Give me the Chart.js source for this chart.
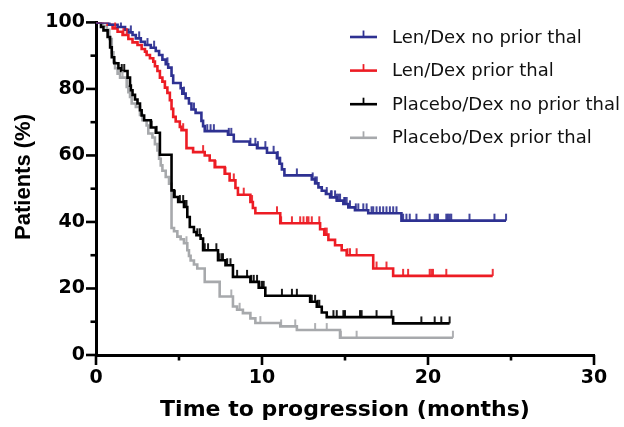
<!DOCTYPE html>
<html>
<head>
<meta charset="utf-8">
<title>Time to progression by prior thalidomide</title>
<script src="https://cdn.jsdelivr.net/npm/chart.js@4.4.1/dist/chart.umd.min.js"></script>
<style>
  html, body { margin: 0; padding: 0; background: #fff; }
  #wrap { width: 624px; height: 427px; }
</style>
</head>
<body>
<div id="wrap"><canvas id="km" width="624" height="427"></canvas></div>
<script>
// ---- data -----------------------------------------------------------------
var seriesNames = ["Len/Dex no prior thal", "Len/Dex prior thal",
                   "Placebo/Dex no prior thal", "Placebo/Dex prior thal"];
var seriesColors = ["#2e3192", "#ed1c24", "#000000", "#a7a9ac"];

var xTickMajor = [0, 10, 20, 30];
var xTickMinor = [5, 15, 25];
var yTickMajor = [0, 20, 40, 60, 80, 100];
var yTickMinor = [10, 30, 50, 70, 90];

// step times (months) and % patients without progression after each step
var blueTime = [0, 0.8, 1.3, 1.75, 1.95, 2.2, 2.4, 2.7, 2.95, 3.3, 3.6, 3.8, 4.0, 4.2, 4.35,
  4.55, 4.65, 5.1, 5.2, 5.4, 5.6, 5.75, 6.0, 6.35, 6.45, 6.55, 7.95, 8.3, 9.25, 9.7,
  10.3, 10.9, 11.05, 11.2, 11.35, 13.0, 13.2, 13.4, 13.6, 13.85, 14.1, 14.5, 14.9, 15.2,
  15.6, 16.4, 18.4, 24.7];
var blueSurv = [100, 99.3, 98.6, 97.8, 97, 96.2, 95.2, 94.2, 93.2, 92.4, 91.4, 90.2, 88.8, 87.4, 86.4,
  84, 81.8, 80.2, 78.6, 77.2, 75.6, 73.8, 72.8, 70.4, 68.8, 67.3, 66.2, 64.2, 63.2, 62.2,
  60.8, 59.2, 57.5, 55.8, 54, 52.8, 51.6, 50.4, 49.4, 48.4, 47.4, 46.4, 45.4, 44.4,
  43.5, 42.6, 40.4, 40.4];
var blueCens = [1.5, 2.1, 2.6, 3.1, 3.5, 4.3, 5.3, 5.9, 6.7, 6.9, 7.1, 8.0, 8.15, 9.3, 9.6, 9.75,
  10.2, 10.7, 10.95, 11.1, 12.1, 13.05, 13.2, 13.3, 13.9, 14.15, 14.2, 14.4, 14.5, 14.6, 14.7,
  14.95, 15.0, 15.1, 15.3, 15.65, 15.8, 16.1, 16.3, 16.6, 16.7, 16.9, 17.1, 17.3, 17.5, 17.7,
  17.9, 18.1, 18.5, 18.7, 18.9, 19.3, 20.1, 20.4, 20.5, 20.6, 21.1, 21.2, 21.3, 21.4, 22.5,
  24.0, 24.7];

var redTime = [0, 0.7, 1.0, 1.3, 1.6, 1.95, 2.2, 2.5, 2.75, 2.95, 3.05, 3.25, 3.45, 3.55, 3.7,
  3.85, 4.0, 4.15, 4.3, 4.45, 4.55, 4.65, 4.8, 5.05, 5.15, 5.45, 5.85, 6.55, 6.85, 7.15,
  7.75, 8.05, 8.4, 8.55, 9.3, 9.45, 9.6, 11.1, 13.5, 13.75, 14.0, 14.4, 14.8, 15.1, 16.7,
  17.9, 23.9];
var redSurv = [100, 99.3, 98.2, 97.2, 96.2, 95, 94, 93.2, 92, 91.2, 90.2, 89.2, 88.2, 86.8, 85.4,
  83.4, 82.2, 80.4, 78.8, 76.6, 74, 71.6, 70.2, 68.6, 67.6, 62.2, 61, 60, 58.5, 56.5,
  54.5, 52.5, 50.2, 48.2, 46, 44.2, 42.6, 39.6, 37.8, 36.2, 34.6, 33, 31.5, 30, 26,
  23.8, 23.8];
var redCens = [1.15, 1.65, 1.85, 5.25, 6.45, 7.2, 7.8, 8.3, 8.9, 9.4, 10.9, 11.15, 11.8, 12.3,
  12.5, 12.7, 12.8, 13.0, 13.45, 13.8, 13.9, 15.15, 15.3, 15.7, 16.9, 17.5, 18.5, 18.8, 20.1,
  20.2, 20.3, 21.1, 23.9];

var blackTime = [0, 0.3, 0.45, 0.7, 0.85, 0.95, 1.1, 1.35, 1.5, 1.9, 2.05, 2.1, 2.2, 2.35, 2.5,
  2.65, 2.75, 2.9, 3.3, 3.6, 3.85, 4.55, 4.7, 4.95, 5.3, 5.5, 5.65, 5.9, 6.05, 6.3,
  6.45, 7.35, 7.8, 8.25, 9.3, 9.8, 10.2, 12.9, 13.3, 13.6, 13.9, 17.9, 21.3];
var blackSurv = [100, 98.6, 97.6, 95.6, 92.5, 89.5, 87.7, 86.2, 85.4, 83.4, 81, 79.6, 78.2, 76.8, 75.6,
  73.6, 72, 70.6, 68.4, 66.8, 60.2, 49.5, 47.5, 46, 44.5, 41.5, 38.5, 37, 36, 35,
  31.5, 28.5, 27, 23.5, 22, 20.2, 17.8, 16, 14.5, 12.8, 11.4, 9.5, 9.5];
var blackCens = [1.55, 1.7, 3.35, 3.65, 4.75, 5.05, 5.25, 5.35, 5.45, 6.1, 6.25, 6.55, 6.75, 7.25,
  7.4, 7.55, 7.65, 7.9, 8.1, 8.5, 9.1, 9.35, 9.5, 9.7, 9.85, 10.0, 10.1, 11.2, 11.8, 12.1,
  13.0, 13.2, 13.35, 13.45, 14.3, 14.5, 14.9, 15.0, 15.9, 16.0, 16.9, 17.8, 19.6, 20.4, 20.8,
  21.3];

var grayTime = [0, 0.4, 0.65, 0.8, 0.95, 1.05, 1.15, 1.3, 1.45, 1.85, 1.95, 2.05, 2.15, 2.4, 2.65,
  2.8, 3.05, 3.15, 3.4, 3.55, 3.7, 3.8, 3.9, 4.0, 4.2, 4.4, 4.55, 4.7, 4.9, 5.1,
  5.3, 5.5, 5.6, 5.7, 5.9, 6.1, 6.55, 7.45, 8.25, 8.5, 8.85, 9.3, 9.6, 11.1, 12.1,
  14.7, 21.5];
var graySurv = [100, 99, 97.8, 95, 91, 88, 86.2, 84.6, 83.4, 80.6, 79, 77.6, 75.6, 74.6, 72.2,
  70.6, 69, 66.6, 65.4, 63.4, 61.5, 59, 57, 55.4, 53.5, 51.5, 38.2, 37.2, 35.6, 34.8,
  33.6, 31.5, 29.8, 28.4, 27.2, 26, 22, 17.6, 14.6, 13.6, 12.6, 11, 9.6, 8.6, 7.5,
  5.2, 5.2];
var grayCens = [1.6, 5.45, 8.15, 8.65, 9.9, 11.15, 12.0, 13.2, 13.9, 14.75, 15.7, 21.5];

// ---- helpers ----------------------------------------------------------------
function stepPoints(times, surv) {
  return times.map(function (t, i) { return { x: t, y: surv[i] }; });
}

// value of the step curve at time t (last step at or before t)
function survAt(times, surv, t) {
  var s = surv[0];
  for (var i = 0; i < times.length; i++) {
    if (times[i] <= t) s = surv[i];
  }
  return s;
}

function censorPoints(times, surv, cens) {
  return cens.map(function (t) { return { x: t, y: survAt(times, surv, t) }; });
}

// short upright tick that sits on top of the line
function censorMark(color) {
  var c = document.createElement("canvas");
  c.width = 4;
  c.height = 16;
  var g = c.getContext("2d");
  g.strokeStyle = color;
  g.lineWidth = 1.8;
  g.beginPath();
  g.moveTo(2, 1);
  g.lineTo(2, 8);
  g.stroke();
  return c;
}

var curves = [
  [blueTime, blueSurv, blueCens],
  [redTime, redSurv, redCens],
  [blackTime, blackSurv, blackCens],
  [grayTime, graySurv, grayCens]
];

var datasets = [];
curves.forEach(function (c, i) {
  datasets.push({
    label: seriesNames[i],
    data: stepPoints(c[0], c[1]),
    showLine: true,
    stepped: true,
    borderColor: seriesColors[i],
    borderWidth: 2.6,
    pointRadius: 0,
    fill: false,
    order: 10 + i
  });
  datasets.push({
    label: seriesNames[i] + " censored",
    data: censorPoints(c[0], c[1], c[2]),
    showLine: false,
    pointStyle: censorMark(seriesColors[i]),
    pointRadius: 3,
    order: i
  });
});

// ---- plugins: tick marks, y title and legend ------------------------------
function seg(ctx, x1, y1, x2, y2) {
  ctx.beginPath();
  ctx.moveTo(x1, y1);
  ctx.lineTo(x2, y2);
  ctx.stroke();
}

var axisTicks = {
  id: "axisTicks",
  afterDraw: function (chart) {
    var ctx = chart.ctx, xs = chart.scales.x, ys = chart.scales.y, a = chart.chartArea;
    ctx.save();
    ctx.strokeStyle = "#000";
    ctx.lineWidth = 2.6;
    xTickMajor.forEach(function (v) { var p = xs.getPixelForValue(v); seg(ctx, p, a.bottom, p, a.bottom + 10); });
    xTickMinor.forEach(function (v) { var p = xs.getPixelForValue(v); seg(ctx, p, a.bottom, p, a.bottom + 5.5); });
    yTickMajor.forEach(function (v) { var p = ys.getPixelForValue(v); seg(ctx, a.left - 10, p, a.left, p); });
    yTickMinor.forEach(function (v) { var p = ys.getPixelForValue(v); seg(ctx, a.left - 5.5, p, a.left, p); });
    ctx.restore();
  }
};

// the y title sits a little above the middle of the axis in the original
var yTitle = {
  id: "yTitle",
  afterDraw: function (chart) {
    var ctx = chart.ctx;
    ctx.save();
    ctx.translate(24, 177);
    ctx.rotate(-Math.PI / 2);
    ctx.font = 'bold 22px "Liberation Sans", Arial, sans-serif';
    ctx.fillStyle = "#000";
    ctx.textAlign = "center";
    ctx.textBaseline = "middle";
    ctx.fillText("Patients (%)", 0, 0);
    ctx.restore();
  }
};

var legendBox = {
  id: "legendBox",
  afterDraw: function (chart) {
    var ctx = chart.ctx;
    ctx.save();
    ctx.font = '18px "DejaVu Sans"';
    ctx.textBaseline = "middle";
    ctx.textAlign = "left";
    seriesNames.forEach(function (name, i) {
      var y = 37 + i * 33.6;
      ctx.strokeStyle = seriesColors[i];
      ctx.lineWidth = 2.6;
      seg(ctx, 350, y, 377, y);
      ctx.lineWidth = 1.8;
      seg(ctx, 363.5, y - 6.5, 363.5, y);
      ctx.fillStyle = "#111";
      ctx.fillText(name, 392, y + 1);
    });
    ctx.restore();
  }
};

// ---- chart -----------------------------------------------------------------
Chart.defaults.font.family = '"DejaVu Sans", sans-serif';
Chart.defaults.color = "#000";

new Chart(document.getElementById("km"), {
  type: "scatter",
  data: { datasets: datasets },
  options: {
    responsive: false,
    animation: false,
    layout: { padding: { top: 22, right: 30, left: 0, bottom: 0 } },
    plugins: {
      legend: { display: false },
      tooltip: { enabled: false }
    },
    scales: {
      x: {
        type: "linear",
        min: 0,
        max: 30,
        ticks: { stepSize: 10, color: "#000", font: { size: 19, weight: "bold" }, padding: 12, maxRotation: 0 },
        grid: { display: false, drawTicks: false },
        border: { display: true, color: "#000", width: 3 },
        title: {
          display: true,
          text: "Time to progression (months)",
          color: "#000",
          font: { size: 22, weight: "bold" },
          padding: { top: 0, bottom: 4 }
        },
        afterFit: function (s) { s.height = 72; }
      },
      y: {
        type: "linear",
        min: 0,
        max: 100,
        ticks: { stepSize: 20, color: "#000", font: { size: 19, weight: "bold" }, padding: 11 },
        grid: { display: false, drawTicks: false },
        border: { display: true, color: "#000", width: 3 },
        title: { display: false },
        afterFit: function (s) { s.width = 96; }
      }
    }
  },
  plugins: [axisTicks, yTitle, legendBox]
});
</script>
</body>
</html>
